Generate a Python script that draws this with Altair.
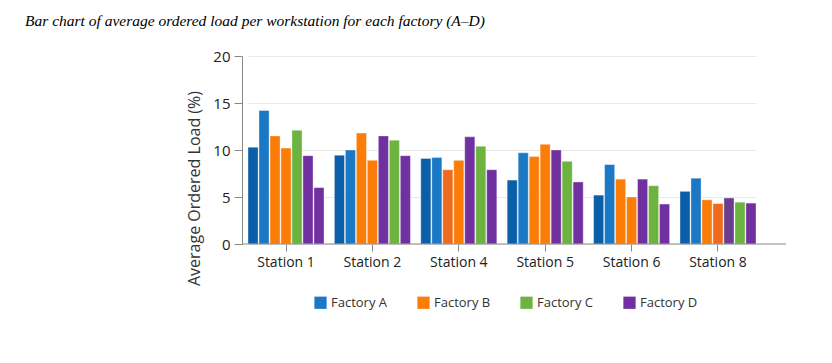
import altair as alt
import pandas as pd

stations = ["Station 1", "Station 2", "Station 4", "Station 5", "Station 6", "Station 8"]

# series key for each of the 7 bars in every station group
slot_series = [
    ["A dark", "Factory A", "Factory B", "Factory B", "Factory C", "Factory D", "Factory D"],
    ["A dark", "Factory A", "Factory B", "Factory B", "Factory D", "Factory C", "Factory D"],
    ["A dark", "Factory A", "B alt", "Factory B", "Factory D", "Factory C", "Factory D"],
    ["A dark", "Factory A", "Factory B", "Factory B", "Factory D", "Factory C", "Factory D"],
    ["A dark", "Factory A", "Factory B", "Factory B", "Factory D", "Factory C", "Factory D"],
    ["A dark", "Factory A", "Factory B", "B alt", "D alt", "Factory C", "Factory D"],
]

slot_values = [
    [10.3, 14.2, 11.5, 10.2, 12.1, 9.4, 6.0],
    [9.45, 10.0, 11.8, 8.9, 11.5, 11.05, 9.4],
    [9.1, 9.2, 7.9, 8.9, 11.4, 10.4, 7.9],
    [6.8, 9.7, 9.3, 10.6, 10.0, 8.8, 6.6],
    [5.2, 8.45, 6.9, 5.0, 6.9, 6.2, 4.25],
    [5.6, 7.0, 4.7, 4.3, 4.9, 4.45, 4.35],
]

series_domain = ["Factory A", "Factory B", "Factory C", "Factory D", "A dark", "B alt", "D alt"]
series_colors = ["#1b78c5", "#fb7d07", "#6db33f", "#7030a0", "#0a5fa8", "#f06a1c", "#6a3d8f"]
legend_entries = ["Factory A", "Factory B", "Factory C", "Factory D"]

y_ticks = [0, 2.5, 5, 7.5, 10, 12.5, 15, 17.5, 20]

rows = []
for s, series, vals in zip(stations, slot_series, slot_values):
    for i, (k, v) in enumerate(zip(series, vals)):
        rows.append({"station": s, "slot": i, "series": k, "value": v})
df = pd.DataFrame(rows)

font = "Open Sans"

bars = alt.Chart(df).mark_bar(stroke="white", strokeWidth=0.6, strokeOpacity=0.6).encode(
    x=alt.X("station:N", sort=stations, title=None,
            scale=alt.Scale(range=[6, 514], paddingInner=0.12, paddingOuter=0),
            axis=alt.Axis(labelAngle=0, domain=False, tickSize=7, tickColor="#888",
                          labelFontSize=14, labelColor="#222", labelFont=font, labelPadding=4)),
    xOffset=alt.XOffset("slot:O", scale=alt.Scale(paddingInner=0.08)),
    y=alt.Y("value:Q", title="Average Ordered Load (%)",
            scale=alt.Scale(domain=[0, 20], nice=False),
            axis=alt.Axis(values=y_ticks,
                          labelExpr="datum.value % 5 == 0 ? datum.label : ''",
                          tickOpacity={"condition": {"test": "datum.value % 5 != 0", "value": 0}, "value": 1},
                          tickSize=8, tickColor="#888", domainColor="#888",
                          gridColor="#e9e9e9", labelFontSize=15, labelColor="#222",
                          labelFont=font, labelPadding=4,
                          titleFont=font, titleFontSize=16, titleFontWeight="normal",
                          titleColor="#333", titleAngle=270, titleAlign="center",
                          titleBaseline="middle", titleX=-48, titleY=132)),
    color=alt.Color("series:N",
                    scale=alt.Scale(domain=series_domain, range=series_colors),
                    legend=alt.Legend(values=legend_entries, title=None, orient="none",
                                      legendX=72, legendY=240,
                                      direction="horizontal", symbolType="square",
                                      symbolSize=150, symbolStrokeWidth=0, symbolOpacity=1,
                                      labelFontSize=13, labelFont=font, labelColor="#333",
                                      columnPadding=29)),
)

baseline = alt.Chart(pd.DataFrame({"v": [0]})).mark_rule(color="#888", strokeWidth=1).encode(
    y=alt.Y("v:Q")
)

chart = alt.layer(bars, baseline).properties(
    width=544,
    height=188,
    padding={"left": 17, "top": 5, "right": 5, "bottom": 5},
    title=alt.TitleParams(
        "Bar chart of average ordered load per workstation for each factory (A\u2013D)",
        font="Liberation Serif", fontSize=15.5, fontStyle="italic", fontWeight="normal",
        color="#000", anchor="start", frame="group", dx=-217, offset=20),
).configure_view(stroke=None)

chart.save("out.html", embed_options={"renderer": "svg", "actions": False})
